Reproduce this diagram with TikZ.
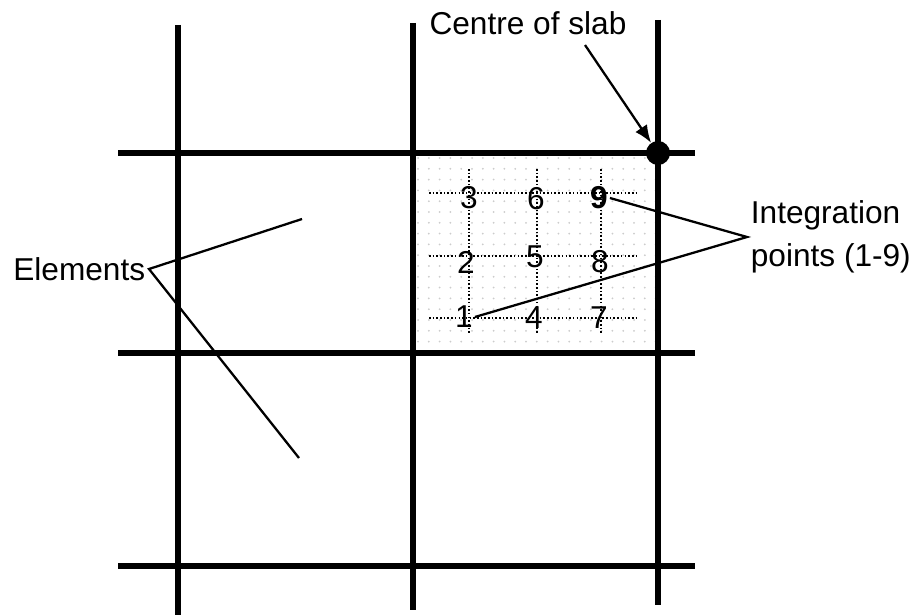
\documentclass[tikz,border=0pt]{standalone}
\usepackage{fontspec}
\setmainfont{Liberation Sans}
\usetikzlibrary{arrows.meta}
\usetikzlibrary{positioning}

\tikzset{
  beam/.style={line width=3.5pt},
  leader/.style={line width=1.3pt},
  gaussline/.style={line width=0.9pt,dash pattern=on 0.9pt off 1.2pt},
  gpt/.style={inner sep=1pt,font=\fontsize{18}{20}\selectfont},
  lbl/.style={font=\fontsize{18}{24.4}\selectfont}
}

\begin{document}
\begin{tikzpicture}[x=0.02cm,y=-0.02cm]
  \useasboundingbox (0,0) rectangle (918,615);
  % shaded element
  \begin{scope}
    \clip (413,153) rectangle (658,353);
    \fill[white] (413,153) rectangle (658,353);
    \foreach \i in {0,...,23}
      \foreach \j in {0,...,19}
        \fill[gray!40] (418+\i*10.8,158+\j*10.8) circle (1);
  \end{scope}
  % integration point lines
  \foreach \yy in {193,256,318}
    \draw[gaussline] (429,\yy) -- (637,\yy);
  \foreach \xx in {469,537,601}
    \draw[gaussline] (\xx,169) -- (\xx,333);
  % slab strips
  \draw[beam] (178,25) -- (178,615);
  \draw[beam] (413,23) -- (413,610);
  \draw[beam] (658,20) -- (658,605);
  \draw[beam] (118,153) -- (695,153);
  \draw[beam] (118,353) -- (695,353);
  \draw[beam] (118,566) -- (695,566);
  \node[circle,fill=black,inner sep=0pt,minimum size=24*0.02cm] (centre) at (658,153) {};
  % integration points
  \node[gpt] (p3) at (469,198) {3};
  \node[gpt] (p6) at (536,199) {6};
  \node[gpt] (p9) at (599,198) {\textbf{9}};
  \node[gpt] (p2) at (466,262) {2};
  \node[gpt] (p5) at (535,257) {5};
  \node[gpt] (p8) at (600,262) {8};
  \node[gpt] (p1) at (464,317) {1};
  \node[gpt] (p4) at (534,318) {4};
  \node[gpt] (p7) at (599,318) {7};
  % labels
  \node[lbl] (clabel) at (528,23) {Centre of slab};
  \coordinate (cfrom) at (585,45);
  \draw[leader,-{Latex[length=10pt,width=8pt]}] (cfrom) -- (centre);
  \node[lbl,anchor=east,inner sep=2pt] (elabel) at (149,269) {Elements};
  \coordinate (eup) at (302,219);
  \coordinate (edown) at (299,458);
  \draw[leader] (eup) -- (elabel.east) -- (edown);
  \node[lbl,anchor=west,align=left,inner sep=2pt] (iplabel) at (747,237) {Integration\\points (1-9)};
  \draw[leader] (p9.east) -- (iplabel.west) -- (p1.east);
\end{tikzpicture}
\end{document}
